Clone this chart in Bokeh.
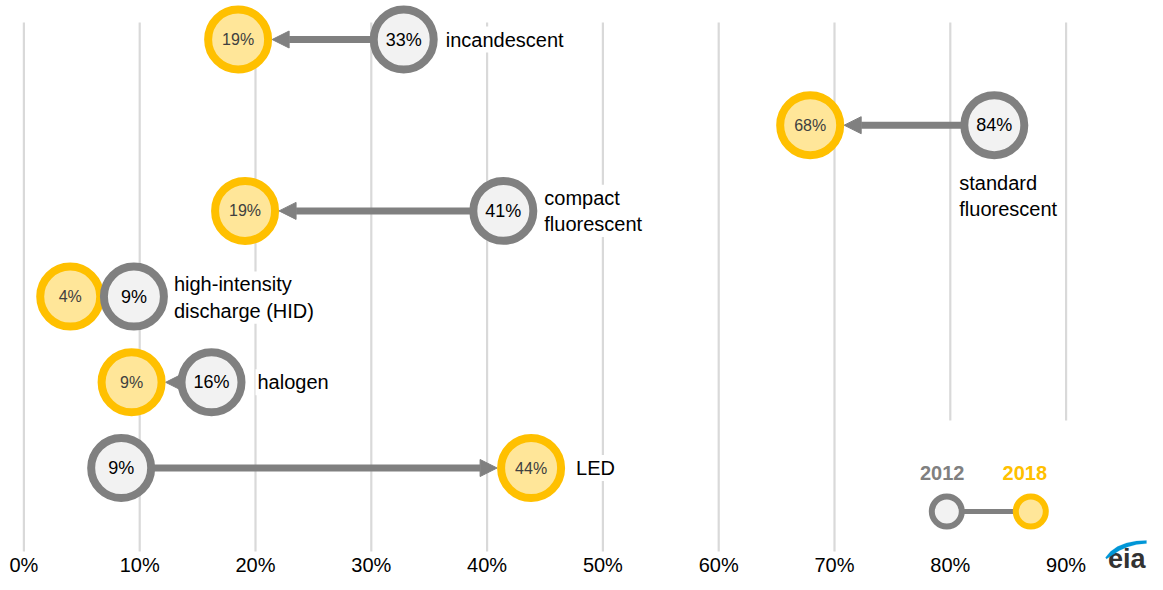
from bokeh.plotting import figure
from bokeh.models import (ColumnDataSource, Range1d, FixedTicker, PrintfTickFormatter,
                          Arrow, NormalHead, Label, PolyAnnotation)
from bokeh.core.properties import value
from bokeh.embed import file_html
from bokeh.resources import INLINE

# ---------------- data ----------------
categories = ["incandescent", "standard\nfluorescent", "compact\nfluorescent",
              "high-intensity\ndischarge (HID)", "halogen", "LED"]
share_2012 = [32.8, 83.8, 41.4, 9.5, 16.2, 8.4]
share_2018 = [18.5, 67.9, 19.1, 4.0, 9.3, 43.8]
labels_2012 = ["33%", "84%", "41%", "9%", "16%", "9%"]
labels_2018 = ["19%", "68%", "19%", "4%", "9%", "44%"]
tick_values = [0, 10, 20, 30, 40, 50, 60, 70, 80, 90]
legend_years = ["2012", "2018"]

# ---------------- layout constants ----------------
FONT = "Liberation Sans"
GRAY = "#808080"
GRAY_FILL = "#F2F2F2"
GOLD = "#FFC000"
GOLD_FILL = "#FFE699"
GRID = "#D9D9D9"

W, H = 1147, 574
PX_PER_UNIT = 11.58          # pixels per percentage point
X0_PX = 23.4                 # pixel position of 0%
ROW_PX = 85.7                # pixels between rows
ROW0_PX = 39.0               # pixel position of the first row
R_UNITS = 34 / PX_PER_UNIT   # outer circle radius in data units


def row_at(px):
    return (px - ROW0_PX) / ROW_PX


def x_at(px):
    return (px - X0_PX) / PX_PER_UNIT


rows = list(range(len(categories)))

p = figure(width=W, height=H, output_backend="svg", toolbar_location=None,
           y_axis_location=None,
           x_range=Range1d(x_at(0), x_at(W)),
           y_range=Range1d(row_at(H), row_at(0)),
           min_border_left=0, min_border_right=0, min_border_top=0, min_border_bottom=0)
p.outline_line_color = None
p.xgrid.visible = False
p.ygrid.visible = False
p.background_fill_color = "white"
p.border_fill_color = "white"

ax = p.xaxis[0]
ax.fixed_location = row_at(549)
ax.ticker = FixedTicker(ticks=tick_values)
ax.formatter = PrintfTickFormatter(format="%d%%")
ax.axis_line_color = None
ax.major_tick_line_color = None
ax.minor_tick_line_color = None
ax.major_tick_in = 0
ax.major_tick_out = 0
ax.major_label_standoff = 4
ax.major_label_text_font = FONT
ax.major_label_text_font_size = "20px"
ax.major_label_text_color = "black"

# vertical gridlines at the ticks
grid_src = ColumnDataSource(dict(x=tick_values, y0=[row_at(22)] * len(tick_values),
                                 y1=[row_at(551)] * len(tick_values)))
p.segment(x0="x", y0="y0", x1="x", y1="y1", source=grid_src,
          line_color=GRID, line_width=2.2, level="image")

# white box behind the legend (hides the lower ends of the 80% / 90% gridlines)
p.quad(left=[74], right=[97], top=[row_at(420)], bottom=[row_at(553)],
       fill_color="white", line_color=None, level="underlay")

# arrows from 2012 to 2018
arrow_end = [b + (R_UNITS if a > b else -R_UNITS) for a, b in zip(share_2012, share_2018)]
arr_src = ColumnDataSource(dict(x0=share_2012, x1=arrow_end, y=rows))
arrow = Arrow(source=arr_src, x_start="x0", y_start="y", x_end="x1", y_end="y",
              line_color=GRAY, line_width=7,
              end=NormalHead(size=17, fill_color=GRAY, line_color=GRAY, line_width=1),
              level="underlay")
p.add_layout(arrow)

src = ColumnDataSource(dict(y=rows, v12=share_2012, v18=share_2018,
                            l12=labels_2012, l18=labels_2018))

# 2018 circles
p.scatter(x="v18", y="y", source=src, marker="circle", size=60,
          fill_color=GOLD_FILL, line_color=GOLD, line_width=8)
p.text(x="v18", y="y", text="l18", source=src, text_align="center",
       text_baseline="middle", text_font=value(FONT), text_font_size="16px",
       text_color="#404040")
# 2012 circles
p.scatter(x="v12", y="y", source=src, marker="circle", size=60,
          fill_color=GRAY_FILL, line_color=GRAY, line_width=8)
p.text(x="v12", y="y", text="l12", source=src, text_align="center",
       text_baseline="middle", text_font=value(FONT), text_font_size="18px",
       text_color="black")

# category labels
label_anchor = [max(a, b) if c != "standard\nfluorescent" else a
                for a, b, c in zip(share_2012, share_2018, categories)]
label_dx = [40, -37, 39, 38, 44, 43]
label_dy = [0, 71, 0, 1, 0, 0]
lab_src = ColumnDataSource(dict(x=label_anchor, y=rows, t=categories, dx=label_dx, dy=label_dy))
p.text(x="x", y="y", text="t", source=lab_src, x_offset="dx", y_offset="dy",
       text_align="left", text_baseline="middle", text_font=value(FONT),
       text_font_size="20px", text_color="black", text_line_height=1.2,
       background_fill_color="white", padding=2)

# legend
leg_text_x = [x_at(941.7), x_at(1024.3)]
leg_x = [x_at(946.3), x_at(1030.3)]
leg_src = ColumnDataSource(dict(x=leg_text_x, y=[row_at(472)] * 2, t=legend_years,
                                c=[GRAY, GOLD]))
p.text(x="x", y="y", text="t", source=leg_src, text_color="c", text_align="center",
       text_baseline="middle", text_font=value(FONT), text_font_size="20px",
       text_font_style="bold")
leg_y = row_at(511)
p.segment(x0=[leg_x[0]], y0=[leg_y], x1=[leg_x[1]], y1=[leg_y], line_color=GRAY, line_width=5)
p.scatter(x=[leg_x[0]], y=[leg_y], marker="circle", size=30, fill_color=GRAY_FILL,
          line_color=GRAY, line_width=6)
p.scatter(x=[leg_x[1]], y=[leg_y], marker="circle", size=30, fill_color=GOLD_FILL,
          line_color=GOLD, line_width=6)

# eia logo (screen units: x from left, y up from bottom of the frame)
LOGO_DX, LOGO_DY = -17, -12
swoosh_img = [(1122, 569), (1127, 563), (1134, 558), (1143, 554.5), (1153, 552.5), (1163, 552),
              (1163, 555), (1153, 556), (1144, 558.5), (1136, 562), (1129, 566.5), (1123, 570.5)]
sx = [a + LOGO_DX for a, b in swoosh_img]
sy = [H - (b + LOGO_DY) for a, b in swoosh_img]
p.add_layout(PolyAnnotation(xs=sx, ys=sy, xs_units="screen", ys_units="screen",
                            fill_color="#0096D7", fill_alpha=1, line_color="#0096D7",
                            line_width=0.5, level="overlay"))
p.add_layout(Label(x=1162 + LOGO_DX, y=1, x_units="screen", y_units="screen",
                   text="eia", text_align="right", text_baseline="bottom",
                   text_font=FONT, text_font_size="27px", text_font_style="bold",
                   text_color="#333333"))

open("out.html", "w").write(file_html(p, INLINE))
